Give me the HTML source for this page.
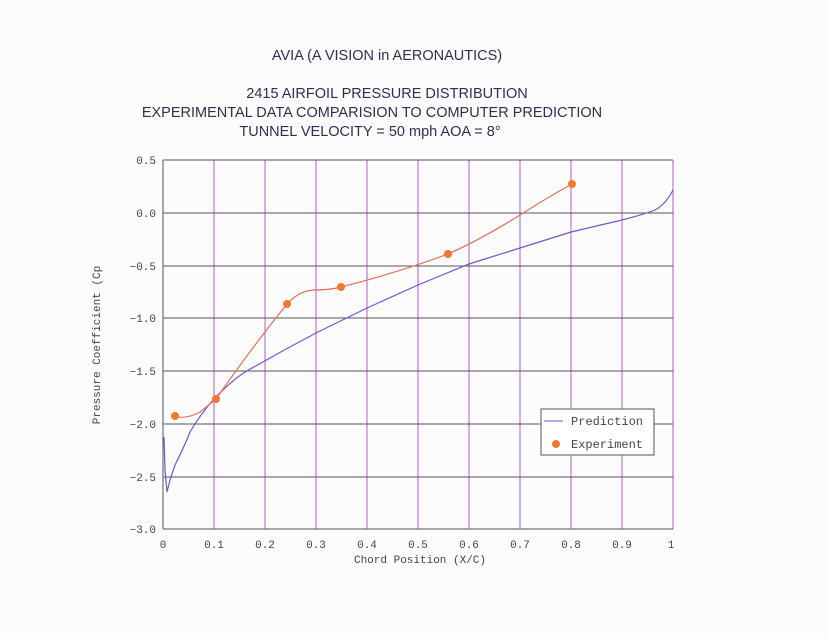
<!DOCTYPE html>
<html><head><style>
body{margin:0;background:#fff;}
svg text{font-family:"Liberation Mono",monospace;}
</style></head><body>
<svg width="828" height="638" xmlns="http://www.w3.org/2000/svg">
<rect width="828" height="638" fill="#fdfcfd"/>
<g fill="#3a2a4a" font-size="14.5" text-anchor="middle">
<text x="387" y="60" style="font-family:'Liberation Sans',sans-serif">AVIA (A VISION in AERONAUTICS)</text>
<text x="387" y="98" style="font-family:'Liberation Sans',sans-serif">2415 AIRFOIL PRESSURE DISTRIBUTION</text>
<text x="372" y="117" style="font-family:'Liberation Sans',sans-serif">EXPERIMENTAL DATA COMPARISION TO COMPUTER PREDICTION</text>
<text x="370" y="136" style="font-family:'Liberation Sans',sans-serif">TUNNEL VELOCITY = 50 mph  AOA = 8°</text>
</g>
<g stroke="#b060c0" stroke-width="1">
<line x1="214" y1="160" x2="214" y2="529"/><line x1="265" y1="160" x2="265" y2="529"/>
<line x1="316" y1="160" x2="316" y2="529"/><line x1="367" y1="160" x2="367" y2="529"/>
<line x1="418" y1="160" x2="418" y2="529"/><line x1="469" y1="160" x2="469" y2="529"/>
<line x1="520" y1="160" x2="520" y2="529"/><line x1="571" y1="160" x2="571" y2="529"/>
<line x1="622" y1="160" x2="622" y2="529"/><line x1="673" y1="160" x2="673" y2="529"/>
</g>
<g stroke="#555" stroke-width="1">
<line x1="163" y1="160" x2="673" y2="160"/><line x1="163" y1="213" x2="673" y2="213"/>
<line x1="163" y1="266" x2="673" y2="266"/><line x1="163" y1="318" x2="673" y2="318"/>
<line x1="163" y1="371" x2="673" y2="371"/><line x1="163" y1="424" x2="673" y2="424"/>
<line x1="163" y1="477" x2="673" y2="477"/><line x1="163" y1="529" x2="673" y2="529"/>
<line x1="163" y1="160" x2="163" y2="529"/>
</g>
<g fill="#444" font-size="11" text-anchor="end">
<text x="156" y="164">0.5</text><text x="156" y="217">0.0</text><text x="156" y="270">−0.5</text>
<text x="156" y="322">−1.0</text><text x="156" y="375">−1.5</text><text x="156" y="428">−2.0</text>
<text x="156" y="481">−2.5</text><text x="156" y="533">−3.0</text>
</g>
<g fill="#444" font-size="11" text-anchor="middle">
<text x="163" y="548">0</text><text x="214" y="548">0.1</text><text x="265" y="548">0.2</text>
<text x="316" y="548">0.3</text><text x="367" y="548">0.4</text><text x="418" y="548">0.5</text>
<text x="469" y="548">0.6</text><text x="520" y="548">0.7</text><text x="571" y="548">0.8</text>
<text x="622" y="548">0.9</text><text x="671" y="548">1</text>
<text x="420" y="563">Chord Position (X/C)</text>
<text transform="translate(100,345) rotate(-90)">Pressure Coefficient (Cp</text>
</g>
<path d="M164,437 L165,470 L167,492 L170,480 L175,465 Q185,445 190,432 Q200,415 213,400 Q230,382 245,372 Q280,352 316,333 L367,308 L418,285 L469,264 L520,248 L571,232 L622,220 Q645,214 655,210 Q666,204 673,190" fill="none" stroke="#6a5acd" stroke-width="1.2"/>
<path d="M175,416 Q185,420 200,412 Q210,404 216,399 Q250,350 287,304 Q300,290 315,290 Q330,290 341,287 Q400,272 448,254 Q480,240 520,215 Q550,196 572,184" fill="none" stroke="#e0705a" stroke-width="1.2"/>
<g fill="#f07830">
<circle cx="175" cy="416" r="4"/><circle cx="216" cy="399" r="4"/><circle cx="287" cy="304" r="4"/>
<circle cx="341" cy="287" r="4"/><circle cx="448" cy="254" r="4"/><circle cx="572" cy="184" r="4"/>
</g>
<rect x="541" y="409" width="113" height="46" fill="#fff" stroke="#555"/>
<line x1="544" y1="421" x2="563" y2="421" stroke="#8a7ae0" stroke-width="1.2"/>
<circle cx="556" cy="444" r="4" fill="#f07830"/>
<g fill="#444" font-size="12"><text x="571" y="425">Prediction</text><text x="571" y="448">Experiment</text></g>
</svg>
</body></html>
